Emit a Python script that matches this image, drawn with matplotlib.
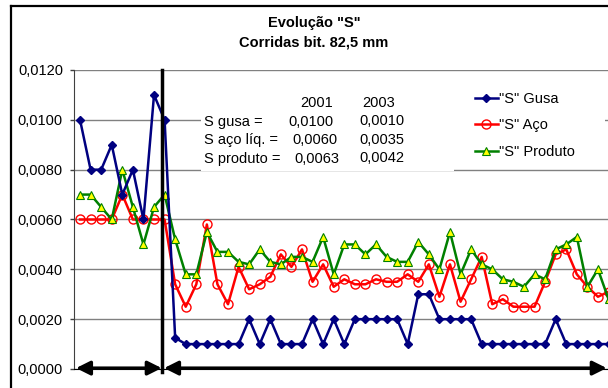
import numpy as np
import matplotlib
matplotlib.use("Agg")
import matplotlib.pyplot as plt
from matplotlib.patches import Rectangle
from matplotlib.lines import Line2D
from matplotlib.ticker import FuncFormatter
import matplotlib.transforms as mtransforms

plt.rcParams['font.family'] = ['Liberation Sans', 'DejaVu Sans']
plt.rcParams['font.size'] = 10.5

# "S" values per heat (corrida)
gusa = [0.0100, 0.0080, 0.0080, 0.0090, 0.0070, 0.0080, 0.0060, 0.0110, 0.0100, 0.00125,
        0.0010, 0.0010, 0.0010, 0.0010, 0.0010, 0.0010, 0.0020, 0.0010, 0.0020, 0.0010,
        0.0010, 0.0010, 0.0020, 0.0010, 0.0020, 0.0010, 0.0020, 0.0020, 0.0020, 0.0020,
        0.0020, 0.0010, 0.0030, 0.0030, 0.0020, 0.0020, 0.0020, 0.0020, 0.0010, 0.0010,
        0.0010, 0.0010, 0.0010, 0.0010, 0.0010, 0.0020, 0.0010, 0.0010, 0.0010, 0.0010,
        0.0010]
aco = [0.0060, 0.0060, 0.0060, 0.0060, 0.0070, 0.0060, 0.0060, 0.0060, 0.0060, 0.0034,
       0.0025, 0.0034, 0.0058, 0.0034, 0.0026, 0.0041, 0.0032, 0.0034, 0.0037, 0.0046,
       0.0041, 0.0048, 0.0035, 0.0042, 0.0033, 0.0036, 0.0034, 0.0034, 0.0036, 0.0035,
       0.0035, 0.0038, 0.0035, 0.0042, 0.0029, 0.0042, 0.0027, 0.0036, 0.0045, 0.0026,
       0.0028, 0.0025, 0.0025, 0.0025, 0.0035, 0.0046, 0.0048, 0.0038, 0.0033, 0.0029,
       0.0031]
produto = [0.0070, 0.0070, 0.0065, 0.0060, 0.0080, 0.0065, 0.0050, 0.0065, 0.0070, 0.0052,
           0.0038, 0.0038, 0.0055, 0.0047, 0.0047, 0.0043, 0.0042, 0.0048, 0.0043, 0.0042,
           0.0045, 0.0045, 0.0043, 0.0053, 0.0038, 0.0050, 0.0050, 0.0046, 0.0050, 0.0045,
           0.0043, 0.0043, 0.0051, 0.0046, 0.0040, 0.0055, 0.0038, 0.0048, 0.0042, 0.0040,
           0.0036, 0.0035, 0.0033, 0.0038, 0.0036, 0.0048, 0.0050, 0.0053, 0.0033, 0.0040,
           0.0028]
yticks = [0.0, 0.002, 0.004, 0.006, 0.008, 0.010, 0.012]

W, H = 608, 388
fig = plt.figure(figsize=(W / 100, H / 100), dpi=100)
ax = fig.add_axes([74 / W, 19 / H, (W - 74) / W, 299 / H])

x = np.arange(len(gusa))
ax.plot(x, gusa, color='#000080', lw=1.8, marker='D', ms=4, mfc='#000080', mec='#000080',
        label='"S" Gusa', zorder=4)
ax.plot(x, aco, color='#ff0000', lw=1.8, marker='o', ms=6.5, mfc='none', mec='#ff0000',
        mew=1, label='"S" Aço', zorder=3)
ax.plot(x, produto, color='#008000', lw=1.8, marker='^', ms=6, mfc='#ffff00', mec='#008000',
        mew=0.8, label='"S" Produto', zorder=3.5)

ax.set_xlim(-0.57, 49.95)
ax.set_ylim(0, 0.012)
ax.set_xticks([])
ax.set_yticks(yticks)
ax.yaxis.set_major_formatter(FuncFormatter(lambda v, p: f'{v:.4f}'.replace('.', ',')))
ax.tick_params(axis='y', length=3, width=1, pad=5, color='#404040', labelsize=10.5)
ax.grid(axis='y', color='#808080', lw=1)
ax.set_axisbelow(True)
for s in ['top', 'right']:
    ax.spines[s].set_visible(False)
ax.spines['left'].set_color('#404040')
ax.spines['bottom'].set_color('black')

# white boxes hiding the grid behind the text block and the legend
for (x0, y0, x1, y1) in [(201, 73, 454, 171), (454, 73, 605, 162)]:
    ax.add_patch(Rectangle((x0 / W, 1 - y1 / H), (x1 - x0) / W, (y1 - y0) / H,
                           transform=fig.transFigure, facecolor='white', edgecolor='none',
                           zorder=1, clip_on=False))

# vertical divider and the two period arrows
trans = mtransforms.blended_transform_factory(ax.transData, ax.transAxes)
ax.plot([7.79, 7.79], [-0.01, 1], color='black', lw=2.5, transform=trans, clip_on=False, zorder=5)
arrow = dict(arrowstyle='<|-|>,head_length=0.8,head_width=0.4', lw=2.4, color='black',
             shrinkA=0, shrinkB=0)
ax.annotate('', xy=(-0.38, 0.003), xytext=(7.73, 0.003), xycoords=trans, textcoords=trans,
            arrowprops=arrow, annotation_clip=False, zorder=6)
ax.annotate('', xy=(7.95, 0.003), xytext=(49.83, 0.003), xycoords=trans, textcoords=trans,
            arrowprops=arrow, annotation_clip=False, zorder=6)

# title
fig.text(314 / W, 1 - 27.3 / H, 'Evolução "S"', ha='center', va='baseline', weight='bold')
fig.text(314 / W, 1 - 46.7 / H, 'Corridas bit. 82,5 mm', ha='center', va='baseline', weight='bold')

# summary text block
def txt(px, py, s):
    fig.text(px / W, 1 - py / H, s, ha='left', va='baseline', zorder=10)

txt(300, 107.3, '2001')
txt(362.7, 107.3, '2003')
txt(204, 126, 'S gusa =')
txt(288.3, 126, '0,0100')
txt(359, 125.3, '0,0010')
txt(204, 144, 'S aço líq. =')
txt(292.3, 144, '0,0060')
txt(359, 143.5, '0,0035')
txt(204, 162.7, 'S produto =')
txt(294.3, 162.7, '0,0063')
txt(359, 162.3, '0,0042')

ax.legend(loc='upper left', bbox_to_anchor=(475 / W, 1 - 92 / H), bbox_transform=fig.transFigure,
          frameon=False, borderpad=0, borderaxespad=0, handlelength=1.55, handletextpad=0.1,
          labelspacing=0.85, fontsize=10.5)

# outer chart border
fig.add_artist(Line2D([10.5 / W, 10.5 / W], [0, 1 - 5.7 / H], color='black', lw=1.6))
fig.add_artist(Line2D([10.5 / W, 1], [1 - 5.7 / H, 1 - 5.7 / H], color='black', lw=1.6))

fig.savefig('out.png', dpi=100)
